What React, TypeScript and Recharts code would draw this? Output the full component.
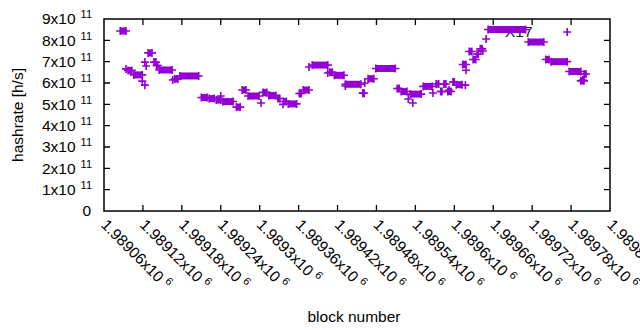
import React from 'react'
import { ComposedChart, Line, Scatter, XAxis, YAxis, ReferenceArea, ReferenceLine } from 'recharts'

const FONT = '"Liberation Sans", Arial, sans-serif'
const PURPLE = '#9400D3'

// flat stretches of blocks sharing one difficulty (first block, last block, hashrate)
const runStart = [1989085, 1989097, 1989106, 1989128, 1989137, 1989141, 1989145, 1989169, 1989177, 1989210, 1989222, 1989233, 1989243, 1989264, 1989273, 1989282, 1989305, 1989314, 1989328, 1989337, 1989344, 1989361, 1989367, 1989381, 1989408, 1989415, 1989432, 1989459, 1989467, 1989479, 1989512, 1989518, 1989532, 1989552, 1989572, 1989579, 1989584, 1989590, 1989598, 1989603, 1989613, 1989623, 1989629, 1989635, 1989640, 1989652, 1989714, 1989741, 1989749, 1989777, 1989800, 1989795]
const runEnd = [1989094, 1989103, 1989119, 1989134, 1989140, 1989143, 1989165, 1989174, 1989206, 1989219, 1989230, 1989240, 1989259, 1989270, 1989279, 1989299, 1989311, 1989325, 1989331, 1989341, 1989357, 1989364, 1989376, 1989405, 1989412, 1989430, 1989456, 1989461, 1989476, 1989509, 1989515, 1989527, 1989549, 1989566, 1989576, 1989581, 1989587, 1989595, 1989600, 1989612, 1989618, 1989627, 1989633, 1989637, 1989643, 1989710, 1989738, 1989746, 1989774, 1989795, 1989803, 1989800]
const runRate = [8.44e11, 6.59e11, 6.38e11, 7.41e11, 6.98e11, 6.82e11, 6.61e11, 6.19e11, 6.33e11, 5.32e11, 5.27e11, 5.2e11, 5.13e11, 4.87e11, 5.67e11, 5.39e11, 5.56e11, 5.41e11, 5.27e11, 5.13e11, 5.02e11, 5.51e11, 5.67e11, 6.84e11, 6.5e11, 6.36e11, 5.94e11, 5.52e11, 6.2e11, 6.68e11, 5.74e11, 5.6e11, 5.48e11, 5.84e11, 5.95e11, 5.6e11, 5.95e11, 5.6e11, 6.05e11, 5.92e11, 6.87e11, 7.48e11, 7.1e11, 7.36e11, 7.6e11, 8.51e11, 7.92e11, 7.1e11, 7.0e11, 6.54e11, 6.42e11, 6.1e11]

// lone blocks off the flat stretches
const spikeBlock = [1989094, 1989119, 1989123, 1989123, 1989125, 1989166, 1989240, 1989302, 1989336, 1989376, 1989405, 1989432, 1989459, 1989462, 1989529, 1989536, 1989567, 1989592, 1989617, 1989618, 1989644, 1989649, 1989774, 1989798]
const spikeRate = [6.66e11, 6.09e11, 5.9e11, 6.98e11, 6.8e11, 6.14e11, 5.39e11, 5.06e11, 5.0e11, 6.75e11, 6.47e11, 5.86e11, 5.53e11, 6.0e11, 5.25e11, 5.06e11, 5.53e11, 5.67e11, 5.9e11, 6.6e11, 7.5e11, 8.06e11, 8.39e11, 6.14e11]

const X_MIN = 1989060
const X_MAX = 1989840
const Y_MAX = 9e11
const xTicks = [1989060, 1989120, 1989180, 1989240, 1989300, 1989360, 1989420, 1989480, 1989540, 1989600, 1989660, 1989720, 1989780, 1989840]
const yTicks = [0, 1e11, 2e11, 3e11, 4e11, 5e11, 6e11, 7e11, 8e11, 9e11]

const runs = runStart.map((s, i) => [
  { b: s, v: runRate[i] },
  { b: runEnd[i], v: runRate[i] },
])
const spikes = spikeBlock.map((b, i) => ({ b, v: spikeRate[i] }))

const PlusMark = (props: any) => {
  const { cx, cy } = props
  if (cx == null || cy == null) return null
  const h = 4
  return (
    <path d={`M${cx - h},${cy}H${cx + h}M${cx},${cy - h}V${cy + h}`} stroke={PURPLE} strokeWidth={1.6} fill="none" />
  )
}

// gnuplot style inward tics on both ends of a reference line
const VStub = (p: any) => {
  const top = Math.min(p.y1, p.y2)
  const bot = Math.max(p.y1, p.y2)
  return <path d={`M${p.x1},${top}v6M${p.x1},${bot}v-6`} stroke="#000" strokeWidth={1.3} fill="none" />
}
const HStub = (p: any) => {
  const l = Math.min(p.x1, p.x2)
  const r = Math.max(p.x1, p.x2)
  return <path d={`M${l},${p.y1}h6M${r},${p.y1}h-6`} stroke="#000" strokeWidth={1.3} fill="none" />
}

const BottomTick = (props: any) => {
  const { x, y, payload } = props
  const label = parseFloat((payload.value / 1e6).toFixed(5)).toString()
  return (
    <text transform={`translate(${x},${y + 11}) rotate(45)`} fontFamily={FONT} fontSize={15.5} fill="#000" dy="0.35em">
      <tspan>{label}x10</tspan>
      <tspan dx={4} dy={-6} fontSize={11}>6</tspan>
    </text>
  )
}

const LeftTick = (props: any) => {
  const { x, y, payload } = props
  const n = Math.round(payload.value / 1e11)
  if (n === 0) {
    return <text x={x - 13} y={y} dy="0.35em" textAnchor="end" fontFamily={FONT} fontSize={15.5} fill="#000">0</text>
  }
  return (
    <text x={x - 12} y={y} dy="0.35em" textAnchor="end" fontFamily={FONT} fontSize={15.5} fill="#000">
      <tspan>{n}x10</tspan>
      <tspan dx={5} dy={-6} fontSize={11}>11</tspan>
    </text>
  )
}

const App = () => {
  return (
    <div style={{ position: 'absolute', left: 0, top: 0, width: 640, height: 330, background: '#fff' }}>
      <svg width={640} height={330} style={{ position: 'absolute', left: 0, top: 0 }}>
        <text x={505} y={37} fontFamily={FONT} fontSize={15.5} fill="#222">X17</text>
        <text transform="translate(23,115) rotate(-90)" textAnchor="middle" fontFamily={FONT} fontSize={15.5} fill="#000">hashrate [h/s]</text>
        <text x={354} y={322} textAnchor="middle" fontFamily={FONT} fontSize={15.5} fill="#000">block number</text>
      </svg>
      <div style={{ position: 'absolute', left: 0, top: 0 }}>
        <ComposedChart width={640} height={330} margin={{ top: 19, right: 30, bottom: 0, left: 0 }}>
          <XAxis dataKey="b" type="number" domain={[X_MIN, X_MAX]} ticks={xTicks} interval={0}
            height={119} tickSize={0} tickMargin={0} axisLine={false} tickLine={false} tick={<BottomTick />} allowDataOverflow />
          <YAxis type="number" domain={[0, Y_MAX]} ticks={yTicks} interval={0} width={104} tickSize={0} tickMargin={0}
            axisLine={false} tickLine={false} tick={<LeftTick />} allowDataOverflow />
          <ReferenceArea x1={X_MIN} x2={X_MAX} y1={0} y2={Y_MAX} fill="none" stroke="#000" strokeWidth={1.5} />
          {xTicks.slice(1, -1).map((t) => (
            <ReferenceLine key={'x' + t} x={t} shape={<VStub />} />
          ))}
          {yTicks.slice(1, -1).map((t) => (
            <ReferenceLine key={'y' + t} y={t} shape={<HStub />} />
          ))}
          {runs.map((d, i) => (
            <Line key={i} data={d} dataKey="v" type="linear" stroke={PURPLE} strokeWidth={7} strokeLinecap="butt"
              dot={<PlusMark />} activeDot={false} isAnimationActive={false} />
          ))}
          <Scatter data={spikes} dataKey="v" shape={(p: any) => <PlusMark cx={p.cx} cy={p.cy} />} isAnimationActive={false} />
        </ComposedChart>
      </div>
    </div>
  )
}

export default App
